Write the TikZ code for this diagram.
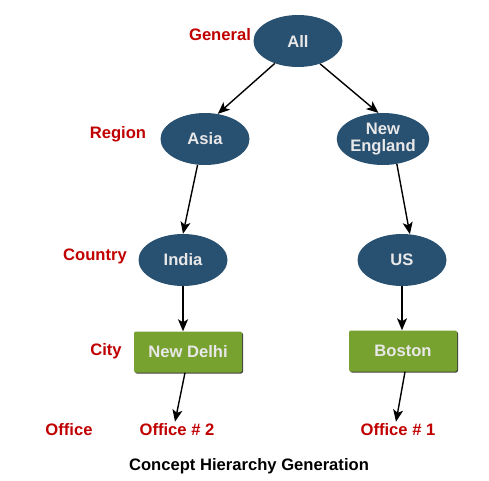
\documentclass[tikz,border=0pt]{standalone}
\usepackage{fontspec}
\setmainfont{Liberation Sans}
\usetikzlibrary{arrows.meta,shapes.geometric,shadows}
\definecolor{nodeblue}{HTML}{285070}
\definecolor{boxgreen}{HTML}{78A22F}
\definecolor{lblred}{HTML}{C00000}
\definecolor{nodetext}{HTML}{E8E8E8}
\begin{document}
\begin{tikzpicture}[x=1pt,y=1pt,
  every node/.style={font=\fontsize{16.6}{17}\selectfont\bfseries},
  concept/.style={ellipse,fill=nodeblue,text=nodetext,minimum width=89pt,minimum height=52pt,inner sep=0pt,align=center},
  citybox/.style={rectangle,rounded corners=2pt,fill=boxgreen,text=nodetext,minimum width=108pt,minimum height=41pt,inner sep=0pt,
    drop shadow={shadow xshift=1pt,shadow yshift=-1pt,fill=black!75,opacity=1}},
  levellabel/.style={text=lblred,inner sep=0pt},
  officelabel/.style={text=lblred,inner sep=2pt},
  link/.style={line width=1.4pt,-{Stealth[length=12pt,width=10pt,inset=3pt]}}
]
\useasboundingbox (0,0) rectangle (489,480);
% concept nodes
\node[concept] (all) at (298,439) {All};
\node[concept] (asia) at (205,341) {Asia};
\node[concept] (ne) at (383,341) {New\\England};
\node[concept] (india) at (183,220) {India};
\node[concept] (us) at (402,220) {US};
\node[citybox] (nd) at (188,128) {New Delhi};
\node[citybox] (boston) at (403,129) {Boston};
\node[officelabel] (off2) at (177,50) {Office \# 2};
\node[officelabel] (off1) at (398,50) {Office \# 1};
% level labels
\node[levellabel] (general) at (220,445) {General};
\node[levellabel] (region) at (118,346) {Region};
\node[levellabel] (country) at (95,224) {Country};
\node[levellabel] (city) at (106,129) {City};
\node[levellabel] (office) at (69,50) {Office};
\node[inner sep=0pt] (caption) at (249,14) {Concept Hierarchy Generation};
% connectors
\draw[link] (all.224) -- (asia.63);
\draw[link] (all.314) -- (ne.100);
\draw[link] (asia.254) -- (india.90);
\draw[link] (ne.299) -- (us.73);
\draw[link] (india.south) -- (india.south |- nd.north);
\draw[link] (us.south) -- (us.south |- boston.north);
\draw[link] ([xshift=-3pt]nd.south) -- ([xshift=-2pt]off2.north);
\draw[link] ([xshift=2pt]boston.south) -- ([xshift=-2pt]off1.north);
\end{tikzpicture}
\end{document}
